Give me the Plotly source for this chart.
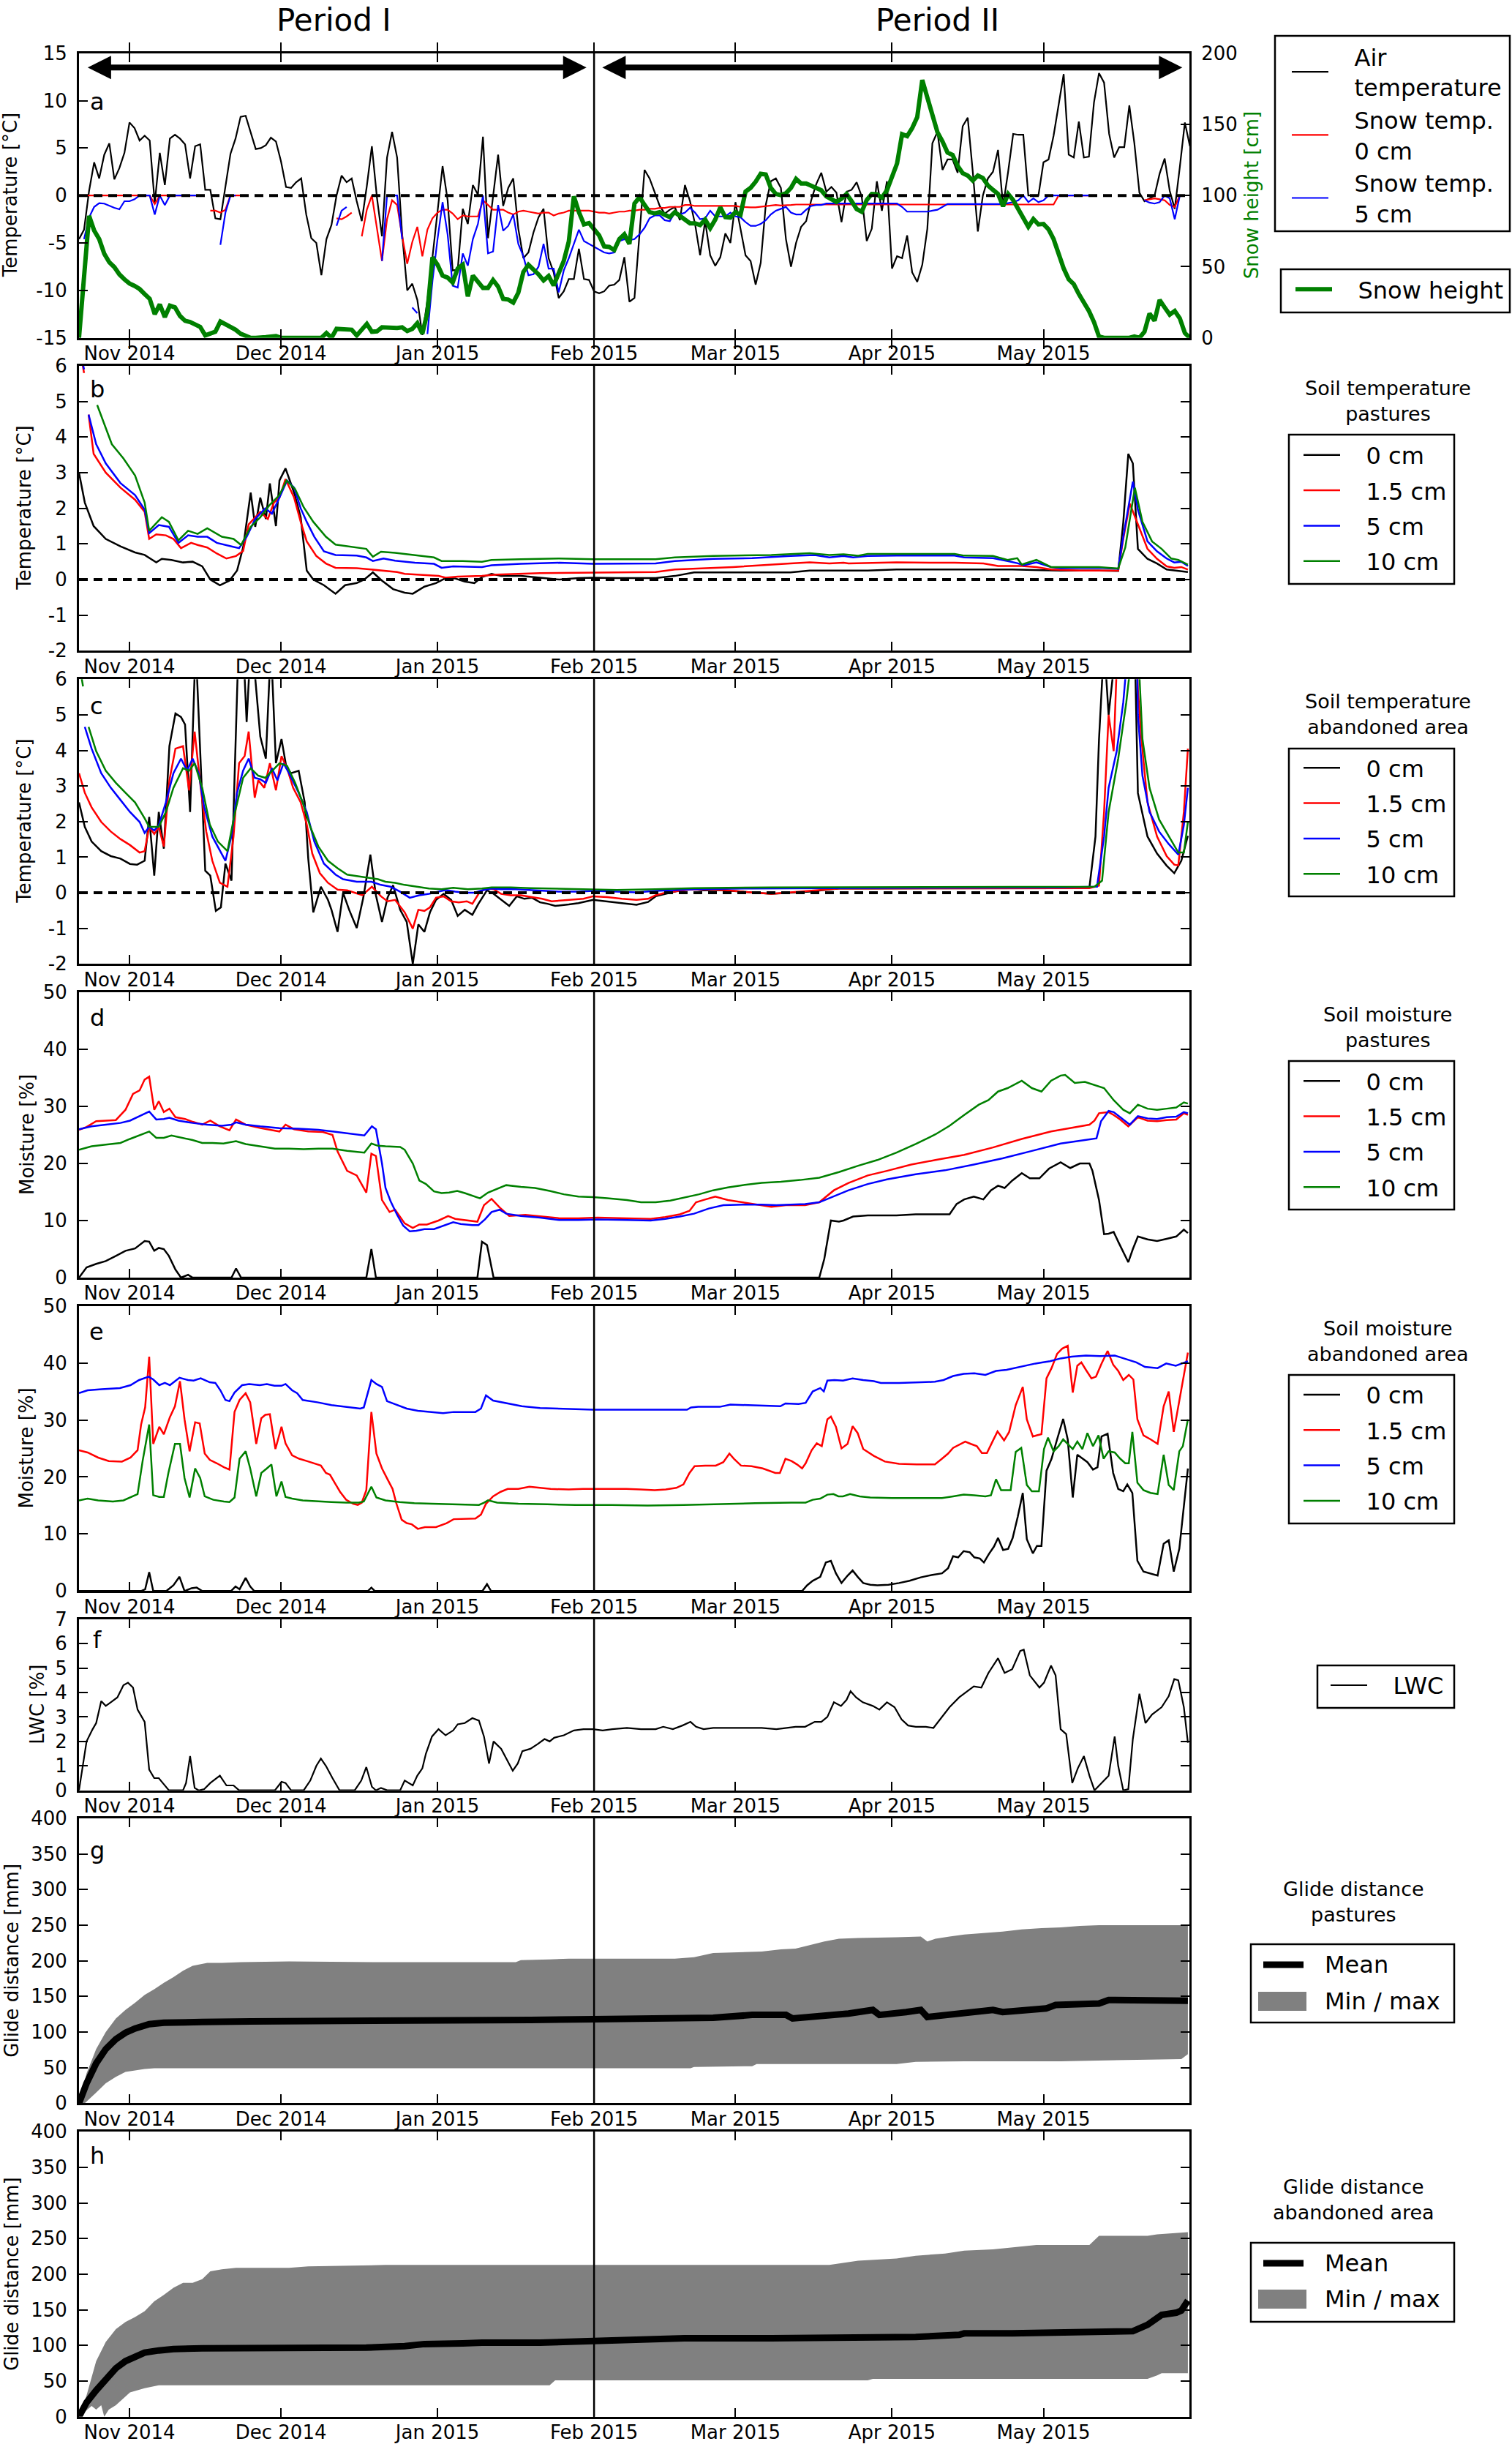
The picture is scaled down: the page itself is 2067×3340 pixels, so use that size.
import plotly.graph_objects as go
import pandas as pd

# the page body margin is removed (post_script) so the 2067 x 3340 figure
# coincides with the reference canvas.
W, H = 2067, 3340
OFF = 0
START = pd.Timestamp("2014-10-22")
X_END = START + pd.Timedelta(days=219.9)
FEB1 = "2015-02-01"
FONT = "DejaVu Sans"

MONTH_TICKS = ["2014-11-01", "2014-12-01", "2015-01-01", "2015-02-01", "2015-03-01", "2015-04-01", "2015-05-01"]
MONTH_LABELS = ["Nov 2014", "Dec 2014", "Jan 2015", "Feb 2015", "Mar 2015", "Apr 2015", "May 2015"]

# ---------------- panel a: daily values from 2014-10-22 ----------------
AIR_TEMP = [
    -4.6, -3.6, 0.5, 3.5, 1.8, 4.3, 5.5, 1.7, 2.9, 4.5,
    7.7, 7.1, 5.8, 6.3, 5.8, -0.8, 4.5, 1.1, 6.0, 6.4,
    6.0, 5.4, 1.8, 5.2, 5.4, 0.6, 0.6, -2.4, -2.5, 0.8,
    4.4, 6.0, 8.3, 8.4, 6.7, 4.9, 5.0, 5.3, 6.1, 5.7,
    3.6, 0.9, 0.8, 1.4, 1.8, -2.0, -4.5, -5.0, -8.4, -4.6,
    -3.1, 0.0, 2.1, 1.4, 1.8, -0.6, -2.7, 1.0, 5.2, -0.2,
    -4.3, 4.0, 6.7, 4.0, -4.1, -10.0, -9.3, -11.0, -14.7, -11.0,
    -6.5, -1.5, 3.1, -0.5, -7.9, -7.8, -1.4, -3.0, 1.1, 0.1,
    6.2, -4.5, 0.0, 4.3, -1.1, 0.8, 1.8, -3.5, -6.6, -6.0,
    -3.9, -2.3, -1.4, -6.6, -8.1, -10.8, -10.1, -8.8, -8.8, -5.6,
    -8.8, -8.9, -10.1, -10.3, -10.1, -9.5, -9.4, -8.9, -6.5, -11.2,
    -10.8, -4.0, 2.7, 1.8, 0.3, -1.1, -1.9, -1.5, -1.2, -2.6,
    1.1, -0.6, -3.0, -6.3, -2.7, -6.3, -7.4, -6.5, -4.0, -5.0,
    -0.7, -3.6, -6.3, -6.9, -9.4, -7.1, -1.0, 1.5, 1.8, 0.8,
    -4.6, -7.5, -5.0, -3.3, -2.7, -0.5, 1.2, 2.4, 0.4, 0.9,
    0.3, -2.8, 0.4, 0.6, 1.4, -0.1, -4.8, -3.5, 1.5, -1.6,
    1.5, -7.7, -6.4, -6.6, -4.2, -8.1, -9.1, -7.3, -3.5, 5.5,
    6.7, 2.7, 3.8, 3.8, 2.4, 7.3, 8.2, 2.5, -3.8, 0.0,
    1.8, 2.5, 4.8, -1.1, 2.5, 6.5, 6.4, 6.4, 0.0, 0.0,
    0.0, 3.5, 3.8, 6.3, 9.5, 12.8, 4.3, 4.0, 7.8, 4.0,
    4.1, 9.8, 12.9, 11.9, 6.5, 4.0, 5.1, 5.1, 9.5, 5.5,
    0.3, -0.6, -0.3, 0.0, 2.3, 3.9, 0.5, -1.4, 3.0, 7.7,
    5.2,
]

N = None
SNOW_T0 = [
    0, 0, 0, 0, 0, 0, 0, 0, 0, 0,
    0, 0, 0, 0, 0, -0.9, 0, 0, 0, 0,
    0, 0, 0, 0, 0, N, -1.6, -1.6, -1.8, -1.5,
    0, 0, 0, 0, N, N, N, N, N, N,
    N, N, N, N, N, N, N, N, N, N,
    N, -2.4, -2.5, -2.2, -1.8, N, -4.3, -1.5, 0, -3.5,
    -6.9, -2.5, -0.5, -1.0, -4.3, -7.2, -4.9, -3.3, -6.4, -3.6,
    -2.4, -1.8, -1.5, -1.5, -1.9, -2.5, -2.1, -2.2, -2.2, -2.2,
    -0.5, -1.0, -1.5, -1.5, -1.5, -1.8, -2.0, -1.7, -1.6, -1.7,
    -1.8, -1.9, -1.8, -1.8, -2.1, -1.9, -1.8, -1.6, -1.6, -1.6,
    -1.6, -1.6, -1.7, -1.8, -1.8, -1.9, -1.8, -1.7, -1.7, -1.6,
    -1.6, -1.5, -1.5, -1.4, -1.4, -1.3, -1.3, -1.2, -1.2, -1.2,
    -1.0, -1.0, -1.1, -1.1, -1.05, -1.1, -1.1, -1.05, -1.1, -1.05,
    -1.1, -1.2, -1.25, -1.25, -1.25, -1.2, -1.1, -1.05, -1.0, -1.05,
    -1.05, -1.0, -0.95, -0.95, -0.95, -0.95, -0.95, -0.95, -0.95, -0.95,
    -0.95, -0.95, -0.95, -0.95, -0.95, -0.95, -0.95, -0.95, -0.95, -0.95,
    -0.95, -0.95, -0.95, -0.95, -0.95, -0.95, -0.95, -0.95, -0.95, -0.95,
    -0.95, -0.95, -0.95, -0.95, -0.95, -0.95, -0.95, -0.95, -0.95, -0.95,
    -0.95, -0.95, -0.95, -0.95, -0.95, -0.95, -0.95, -0.95, -0.95, -0.95,
    -0.95, -0.95, -0.95, -0.95, 0, 0, 0, 0, 0, 0,
    0, 0, N, N, N, N, N, N, N, N,
    N, -0.5, -0.4, -0.3, -0.4, -0.5, -1.0, -1.2, 0, 0,
    N,
]

SNOW_T5 = [
    N, -4.6, -2.3, -1.2, -0.8, -0.85, -1.1, -1.3, -1.45, -0.6,
    -0.6, -0.4, 0, 0, 0, -2.0, 0, -1.0, 0, 0,
    0, 0, 0, 0, 0, N, N, N, -5.2, -1.8,
    0, 0, N, N, N, N, N, N, N, N,
    N, N, N, N, N, N, N, N, N, N,
    N, -3.2, -1.6, -1.2, N, N, N, N, N, N,
    -6.9, 0, 0, 0, -4.6, N, -11.8, -12.4, N, -14.6,
    -9.0, -4.6, -0.7, -4.1, -9.5, -9.7, -6.1, -7.4, -4.6, -3.0,
    0, -6.1, -5.9, -1.0, -3.7, -3.2, -2.0, -5.1, -6.4, -8.4,
    -8.3, -7.5, -5.1, -7.7, -7.7, -10.2, -7.9, -6.6, -5.1, -3.6,
    -4.8, -5.1, -5.4, -5.7, -6.0, -6.1, -6.0, -4.8, -4.6, -4.7,
    -4.6, -4.1, -3.4, -2.4, -2.1, -2.1, -2.6, -2.7, -1.8, -2.0,
    -1.8, -1.3, -1.8, -2.5, -2.4, -1.6, -2.2, -2.2, -2.2, -1.8,
    -2.2, -2.3, -2.8, -3.2, -3.2, -3.0, -2.6, -2.0, -1.6, -1.4,
    -1.2, -1.8, -2.0, -2.0, -1.5, -1.1, -1.0, -1.0, -0.85, -0.85,
    -0.85, -0.85, -0.85, -0.85, -0.85, -0.85, -0.85, -0.85, -0.85, -0.85,
    -0.85, -0.85, -0.85, -1.2, -1.7, -1.7, -1.7, -1.7, -1.7, -1.6,
    -1.5, -1.2, -0.9, -0.9, -0.9, -0.9, -0.9, -0.9, -0.9, -0.9,
    -0.9, -0.9, -0.9, -0.9, -0.8, -0.7, -0.5, 0.0, -0.7, -0.3,
    -0.7, -0.5, 0, 0, 0, 0, 0, 0, 0, 0,
    0, 0, N, N, N, N, N, N, N, N,
    N, -0.5, -0.75, -0.85, -0.7, 0, -0.3, -2.5, 0, N,
    N,
]

SNOW_HEIGHT = [
    0, 45, 85.7, 75.4, 69.4, 59.1, 53.1, 49.7, 44.6, 41.1,
    38.2, 36.5, 34.3, 30.8, 27.4, 16.6, 23.5, 14.6, 22.6, 21.4,
    15.4, 12.0, 11.1, 9.4, 7.7, 1.7, 3.4, 4.3, 11.5, 9.8,
    8.1, 5.7, 2.9, 1.2, 0, 0, 0, 0.5, 0.9, 1.2,
    0, 0, 0, 0, 0, 0, 0, 0, 0, 3.4,
    0, 6.3, 6.3, 6.0, 5.7, 1.7, 6.0, 9.8, 4.3, 4.6,
    7.4, 7.2, 7.0, 6.9, 7.4, 4.8, 6.3, 10.3, 2.9, 18.0,
    56.6, 51.4, 43.7, 42.3, 38.9, 48.8, 51.4, 29.1, 43.7, 39.4,
    35.1, 35.1, 40.6, 36.0, 27.4, 26.9, 24.8, 31.7, 46.3, 51.4,
    48.5, 44.6, 40.3, 43.4, 36.8, 46.3, 54.0, 67.7, 99.4, 88.3,
    79.7, 80.6, 76.3, 72.0, 64.3, 63.9, 61.7, 69.4, 72.8, 66.0,
    94.3, 98.9, 93.4, 88.3, 87.4, 88.3, 86.5, 84.8, 88.3, 85.7,
    84.0, 80.5, 80.5, 79.3, 83.1, 77.1, 83.1, 91.7, 84.8, 84.5,
    88.3, 86.5, 102.8, 105.4, 109.7, 115.3, 114.8, 105.4, 101.1, 100.3,
    101.6, 105.4, 111.7, 108.5, 108.5, 107.1, 105.1, 103.7, 99.4, 97.2,
    95.5, 97.7, 101.1, 96.0, 90.5, 88.6, 96.8, 101.1, 100.9, 98.5,
    103.7, 113.1, 122.5, 143.1, 141.7, 147.4, 155.1, 181.1, 169.7, 156.8,
    144.5, 138.0, 130.2, 128.5, 120.8, 115.7, 114.0, 110.5, 114.0, 112.3,
    107.1, 104.0, 101.1, 92.5, 101.1, 96.8, 90.0, 84.0, 78.0, 83.5,
    79.7, 80.0, 76.3, 69.4, 59.1, 48.8, 41.1, 37.7, 30.8, 24.8,
    18.9, 11.1, 0.9, 0, 0, 0, 0, 0, 0, 0.9,
    0, 4.3, 17.1, 12.0, 26.6, 21.4, 16.3, 18.9, 13.7, 3.4,
    0,
]

# ---------------- panels b-h: (day since 2014-10-22, value) ----------------
SOILT_PAST_0 = [(0, 3.0), (1.15, 2.16), (2.9, 1.5), (5.3, 1.14), (8.2, 0.93), (11.1, 0.76), (13.0, 0.69), (15.3, 0.48), (16.4, 0.58), (18.3, 0.55), (20.6, 0.48), (22.5, 0.5), (24.4, 0.37), (26.0, 0.0), (27.9, -0.16), (29.8, -0.03), (31.3, 0.25), (32.5, 0.9), (34.0, 2.44), (34.9, 1.48), (35.9, 2.3), (37.0, 1.7), (37.8, 2.7), (39.0, 1.5), (39.7, 2.78), (40.9, 3.12), (42.6, 2.44), (43.9, 1.75), (45.1, 0.25), (46.4, 0.0), (48.5, -0.16), (50.8, -0.4), (52.7, -0.16), (55.0, -0.1), (56.5, 0.0), (58.2, 0.2), (60.0, -0.03), (62.2, -0.27), (64.5, -0.37), (66.1, -0.4), (68.4, -0.2), (70.7, -0.1), (72.6, 0.04), (74.5, 0.03), (76.4, -0.06), (78.3, -0.1), (79.8, 0.07), (81.7, 0.16), (83.6, 0.1), (87.5, 0.1), (91.3, 0.05), (95.1, 0.0), (98.9, 0.04), (101.8, 0.05), (106.5, 0.04), (114.2, 0.04), (118.0, 0.1), (121.8, 0.2), (129.5, 0.2), (140.9, 0.2), (144.7, 0.25), (156.2, 0.25), (161.9, 0.28), (184.8, 0.28), (190.6, 0.26), (194.4, 0.25), (202.0, 0.25), (205.8, 0.24), (206.8, 1.6), (207.8, 3.53), (208.7, 3.26), (209.7, 0.86), (211.6, 0.58), (213.5, 0.45), (215.4, 0.28), (217.3, 0.25), (219.6, 0.21)]
SOILT_PAST_15 = [(0.4, 6.3), (1.0, 5.8), (1.5, None), (1.9, 4.63), (2.9, 3.53), (5.3, 3.0), (8.2, 2.58), (11.1, 2.24), (13.0, 1.9), (13.9, 1.14), (15.3, 1.27), (17.2, 1.24), (18.7, 1.14), (20.2, 0.88), (22.2, 1.03), (23.5, 0.97), (25.4, 0.9), (27.3, 0.73), (29.2, 0.59), (31.1, 0.66), (32.5, 0.8), (33.6, 1.55), (35.9, 1.9), (37.4, 1.7), (38.6, 2.16), (39.7, 2.3), (40.9, 2.82), (42.6, 2.3), (43.9, 1.62), (45.1, 1.07), (47.0, 0.66), (48.9, 0.45), (50.8, 0.33), (55.0, 0.32), (58.0, 0.28), (60.7, 0.25), (63.0, 0.21), (64.5, 0.16), (67.4, 0.14), (71.2, 0.1), (72.6, 0.05), (75.0, 0.08), (79.8, 0.1), (82.7, 0.14), (91.3, 0.18), (101.8, 0.2), (114.2, 0.21), (118.0, 0.28), (129.5, 0.35), (140.9, 0.45), (144.7, 0.48), (148.6, 0.45), (151.4, 0.47), (152.4, 0.45), (161.9, 0.48), (173.4, 0.47), (179.1, 0.45), (182.0, 0.38), (186.7, 0.38), (189.6, 0.35), (192.5, 0.28), (198.2, 0.25), (203.9, 0.24), (205.8, 0.25), (206.8, 1.14), (208.1, 2.13), (209.7, 1.55), (211.6, 0.86), (213.5, 0.58), (215.4, 0.37), (216.9, 0.33), (218.3, 0.35), (219.6, 0.28)]
SOILT_PAST_5 = [(0.4, 6.3), (1.0, 5.9), (1.5, None), (1.9, 4.63), (3.4, 3.8), (5.3, 3.26), (8.2, 2.71), (11.1, 2.37), (13.0, 1.96), (13.9, 1.3), (15.8, 1.53), (17.8, 1.48), (19.7, 1.03), (21.6, 1.24), (23.5, 1.2), (25.4, 1.2), (27.3, 1.03), (30.2, 0.93), (31.7, 0.88), (33.2, 1.2), (34.9, 1.7), (36.9, 2.0), (38.2, 1.85), (39.7, 2.3), (41.2, 2.78), (42.6, 2.58), (43.9, 2.0), (45.1, 1.62), (46.6, 1.2), (48.5, 0.79), (50.8, 0.69), (55.0, 0.67), (56.9, 0.62), (58.2, 0.52), (60.3, 0.59), (62.6, 0.53), (66.5, 0.47), (70.3, 0.44), (71.8, 0.33), (74.1, 0.37), (79.8, 0.35), (81.7, 0.4), (87.5, 0.44), (95.1, 0.47), (101.8, 0.44), (114.2, 0.45), (118.0, 0.52), (125.6, 0.58), (133.3, 0.6), (140.9, 0.66), (145.7, 0.69), (148.6, 0.62), (151.4, 0.66), (153.3, 0.62), (156.2, 0.66), (161.9, 0.67), (173.4, 0.67), (175.3, 0.62), (181.0, 0.6), (183.9, 0.52), (185.8, 0.46), (187.1, 0.4), (189.6, 0.48), (192.5, 0.35), (194.4, 0.32), (202.0, 0.33), (205.8, 0.3), (206.8, 1.2), (208.7, 2.75), (209.7, 1.96), (211.6, 1.07), (213.5, 0.79), (215.4, 0.59), (216.9, 0.48), (218.3, 0.5), (219.6, 0.38)]
SOILT_PAST_10 = [(3.6, 4.9), (6.5, 3.8), (8.8, 3.4), (11.1, 2.92), (13.0, 2.16), (13.9, 1.37), (16.4, 1.75), (17.8, 1.62), (19.7, 1.1), (21.6, 1.37), (23.5, 1.28), (25.4, 1.44), (28.3, 1.2), (30.6, 1.14), (32.1, 0.97), (34.0, 1.48), (35.9, 1.75), (37.8, 2.1), (39.7, 2.37), (41.1, 2.78), (42.8, 2.54), (44.5, 2.03), (46.4, 1.62), (48.9, 1.2), (50.8, 0.98), (55.0, 0.9), (56.9, 0.86), (58.2, 0.64), (59.8, 0.78), (62.6, 0.75), (66.5, 0.69), (70.3, 0.62), (71.8, 0.52), (76.0, 0.52), (79.8, 0.5), (81.7, 0.55), (87.5, 0.57), (95.1, 0.59), (101.8, 0.57), (114.2, 0.57), (118.0, 0.62), (125.6, 0.66), (137.1, 0.69), (144.7, 0.74), (148.6, 0.69), (151.4, 0.71), (154.3, 0.67), (156.2, 0.72), (173.4, 0.72), (175.3, 0.67), (181.0, 0.66), (183.9, 0.55), (185.8, 0.6), (186.7, 0.42), (189.6, 0.55), (192.5, 0.35), (202.0, 0.35), (205.8, 0.31), (207.2, 0.9), (209.1, 2.58), (210.6, 1.62), (212.5, 1.07), (214.4, 0.86), (216.3, 0.59), (217.7, 0.55), (219.6, 0.42)]

SOILT_ABAN_0 = [(0, 2.54), (1.15, 1.85), (2.5, 1.44), (4.4, 1.17), (6.3, 1.03), (8.2, 0.96), (10.1, 0.81), (11.5, 0.79), (13.0, 0.9), (13.9, 2.13), (14.9, 0.48), (15.8, 2.27), (16.8, 1.24), (17.9, 4.12), (19.1, 5.04), (20.2, 4.94), (21.0, 4.73), (22.0, 2.27), (23.1, 7.0), (24.1, 3.64), (25.0, 0.62), (26.0, 0.48), (27.1, -0.51), (28.1, -0.41), (29.0, 0.82), (30.2, 0.34), (31.7, 7.5), (32.5, 7.0), (33.2, 4.8), (34.0, 7.0), (34.8, 6.2), (35.9, 4.39), (37.0, 3.77), (38.0, 7.0), (39.0, 3.64), (40.1, 4.32), (41.1, 3.5), (42.0, 3.36), (43.5, 3.43), (44.7, 2.54), (45.4, 0.96), (46.4, -0.55), (47.9, 0.17), (49.3, -0.2), (50.0, -0.48), (51.2, -1.1), (52.3, 0.0), (53.5, -0.48), (55.0, -0.99), (56.3, -0.14), (57.7, 1.07), (58.8, -0.07), (60.0, -0.82), (61.1, -0.14), (62.2, 0.21), (63.6, -0.48), (64.9, -0.82), (66.1, -2.0), (67.2, -0.89), (68.4, -1.1), (69.5, -0.55), (70.7, -0.2), (72.2, -0.03), (73.7, -0.2), (75.0, -0.65), (76.4, -0.48), (77.9, -0.62), (79.1, -0.31), (80.8, 0.07), (82.1, -0.03), (83.6, -0.2), (85.2, -0.37), (86.7, -0.1), (88.2, -0.17), (89.7, -0.14), (91.3, -0.27), (92.8, -0.31), (94.3, -0.37), (97.0, -0.33), (98.9, -0.29), (101.8, -0.2), (104.6, -0.24), (107.5, -0.29), (110.4, -0.34), (112.7, -0.26), (114.2, -0.1), (116.1, -0.03), (118.0, 0.03), (119.9, 0.1), (121.8, 0.1), (123.7, 0.07), (126.6, 0.08), (129.5, 0.05), (133.3, 0.0), (137.1, -0.03), (140.9, 0.0), (144.7, 0.03), (147.6, 0.08), (150.5, 0.12), (156.2, 0.12), (175.3, 0.13), (194.4, 0.13), (200.1, 0.15), (201.3, 1.58), (202.0, 4.32), (203.0, 7.0), (203.9, 5.0), (205.8, 7.5), (209.0, 7.5), (209.7, 2.8), (211.6, 1.58), (213.5, 1.1), (215.4, 0.76), (216.9, 0.55), (218.3, 0.9), (219.6, 1.6)]
SOILT_ABAN_15 = [(0, 3.36), (1.15, 2.81), (2.5, 2.4), (4.4, 1.99), (6.3, 1.72), (8.2, 1.51), (10.1, 1.34), (12.0, 1.13), (13.0, 1.17), (13.9, 1.85), (14.9, 1.65), (15.8, 1.85), (16.8, 1.3), (17.9, 3.16), (19.1, 4.05), (20.6, 4.12), (21.8, 2.88), (22.9, 4.53), (24.1, 2.95), (25.2, 1.72), (26.4, 0.9), (27.9, 0.28), (29.4, 0.17), (30.6, 1.58), (31.7, 3.64), (32.8, 3.84), (33.6, 4.53), (34.8, 2.67), (35.5, 3.16), (36.7, 2.95), (37.8, 3.64), (39.0, 2.88), (40.1, 3.84), (41.2, 3.5), (42.4, 2.95), (43.9, 2.54), (45.1, 1.92), (46.2, 1.1), (47.7, 0.55), (49.3, 0.28), (51.2, 0.09), (53.1, 0.07), (54.6, 0.0), (56.1, -0.07), (58.0, 0.17), (59.8, -0.1), (61.1, -0.24), (62.6, -0.2), (64.5, -0.55), (66.1, -1.01), (67.2, -0.48), (68.4, -0.51), (69.5, -0.41), (70.7, -0.14), (72.2, -0.1), (73.7, -0.24), (75.2, -0.27), (76.8, -0.24), (77.9, -0.31), (79.4, 0.03), (80.8, 0.12), (82.1, 0.1), (83.6, -0.03), (85.5, -0.07), (87.5, -0.07), (89.7, -0.12), (91.7, -0.17), (93.6, -0.24), (97.0, -0.2), (99.9, -0.17), (101.8, -0.1), (104.6, -0.12), (107.5, -0.17), (110.4, -0.2), (112.7, -0.17), (114.2, -0.07), (116.1, 0.0), (118.0, 0.03), (120.9, 0.09), (123.7, 0.1), (127.6, 0.08), (131.4, 0.03), (135.2, 0.0), (137.1, -0.03), (140.0, 0.0), (142.8, 0.03), (146.6, 0.08), (150.5, 0.12), (200.1, 0.13), (202.0, 0.2), (203.0, 2.27), (203.9, 5.0), (204.9, 3.98), (205.8, 7.5), (209.3, 7.5), (209.7, 5.7), (210.4, 4.32), (211.6, 2.54), (213.5, 1.58), (215.4, 1.03), (216.9, 0.79), (217.7, 0.77), (218.8, 2.27), (219.6, 4.05)]
SOILT_ABAN_5 = [(1.15, 4.66), (2.5, 4.05), (4.4, 3.36), (6.3, 2.95), (8.2, 2.61), (10.1, 2.27), (12.0, 1.99), (13.0, 1.68), (13.9, 1.85), (14.9, 1.75), (15.8, 1.89), (17.2, 2.54), (18.7, 3.36), (20.2, 3.77), (21.4, 3.43), (22.5, 3.77), (23.7, 3.36), (24.8, 2.4), (26.4, 1.58), (27.9, 1.17), (29.0, 0.9), (30.2, 1.6), (31.3, 2.81), (32.5, 3.43), (33.6, 3.77), (34.8, 3.23), (35.9, 3.19), (37.0, 3.09), (38.2, 3.5), (39.3, 3.16), (40.5, 3.64), (41.6, 3.36), (43.5, 2.81), (45.1, 2.27), (46.6, 1.44), (48.5, 0.82), (50.8, 0.51), (52.3, 0.38), (55.0, 0.31), (57.9, 0.31), (59.8, 0.22), (61.7, 0.17), (63.6, 0.03), (65.5, -0.14), (67.4, -0.07), (69.3, -0.03), (71.2, 0.03), (72.6, 0.08), (74.5, 0.03), (76.4, 0.0), (78.3, 0.0), (79.8, 0.07), (81.7, 0.12), (83.6, 0.1), (86.5, 0.1), (89.0, 0.08), (91.3, 0.05), (95.1, 0.03), (98.9, 0.03), (101.8, 0.05), (106.5, 0.03), (110.4, 0.01), (114.2, 0.05), (118.0, 0.07), (121.8, 0.1), (133.3, 0.12), (142.8, 0.12), (148.6, 0.13), (194.4, 0.15), (201.6, 0.17), (203.0, 1.58), (203.9, 2.95), (205.5, 3.98), (206.8, 5.35), (207.8, 7.0), (209.5, 7.0), (209.7, 5.0), (210.6, 3.29), (212.0, 2.27), (213.9, 1.72), (215.8, 1.37), (217.7, 1.07), (218.8, 1.9), (219.6, 2.95)]
SOILT_ABAN_10 = [(0.2, 6.3), (0.8, 5.8), (1.4, None), (1.9, 4.66), (3.4, 3.98), (5.3, 3.43), (7.3, 3.09), (9.2, 2.81), (11.1, 2.54), (13.0, 2.09), (13.9, 1.85), (15.8, 1.85), (17.2, 2.27), (18.7, 2.95), (20.6, 3.5), (21.8, 3.43), (22.9, 3.64), (24.4, 2.95), (25.9, 1.92), (27.5, 1.44), (29.4, 1.17), (30.9, 2.27), (32.5, 3.23), (34.0, 3.5), (35.5, 3.29), (36.9, 3.23), (38.2, 3.43), (39.7, 3.64), (41.2, 3.57), (42.8, 3.09), (44.3, 2.54), (45.8, 1.85), (47.4, 1.3), (49.3, 0.9), (51.2, 0.69), (53.1, 0.51), (55.0, 0.47), (56.9, 0.43), (59.2, 0.38), (60.7, 0.31), (62.6, 0.28), (64.5, 0.22), (66.8, 0.17), (69.3, 0.12), (71.8, 0.1), (74.1, 0.14), (77.0, 0.1), (79.8, 0.12), (81.7, 0.15), (85.5, 0.15), (89.4, 0.13), (93.2, 0.12), (98.9, 0.1), (106.5, 0.08), (114.2, 0.1), (118.0, 0.12), (121.8, 0.13), (137.1, 0.15), (175.3, 0.16), (190.6, 0.17), (201.1, 0.17), (202.6, 0.34), (203.9, 2.27), (205.8, 3.77), (207.4, 5.35), (208.7, 7.0), (209.7, 7.0), (210.6, 4.32), (212.0, 2.95), (213.9, 2.06), (215.8, 1.58), (217.7, 1.13), (218.8, 1.13), (219.6, 1.99)]

MOIST_PAST_0 = [(0, 0), (1.5, 1.8), (3.4, 2.4), (5.3, 2.9), (7.3, 3.8), (9.2, 4.7), (11.1, 5.1), (13.0, 6.4), (13.9, 6.3), (14.9, 4.7), (15.8, 5.2), (16.8, 5.0), (17.8, 3.8), (19.1, 1.4), (20.2, 0), (21.6, 0.5), (22.5, 0), (30.2, 0), (31.1, 1.6), (32.1, 0), (56.9, 0), (57.9, 5.0), (58.8, 0), (78.9, 0), (79.8, 6.3), (80.8, 5.7), (82.1, 0), (146.6, 0), (147.6, 3.3), (148.9, 10.0), (150.5, 9.8), (151.4, 10.0), (153.3, 10.7), (156.2, 10.9), (161.9, 10.9), (165.7, 11.1), (172.4, 11.1), (173.8, 12.9), (175.3, 13.7), (177.2, 14.2), (179.1, 13.7), (180.6, 15.3), (182.0, 16.1), (183.3, 15.7), (184.8, 17.0), (186.7, 18.3), (188.3, 17.4), (190.2, 17.4), (192.1, 19.1), (194.4, 20.2), (196.3, 19.2), (198.2, 20.0), (200.1, 20.0), (200.7, 18.7), (202.0, 13.6), (203.0, 7.6), (203.9, 7.7), (204.9, 8.0), (205.8, 6.3), (206.8, 4.6), (207.8, 2.7), (208.7, 5.0), (209.7, 7.2), (211.6, 6.7), (213.5, 6.4), (215.4, 6.8), (217.3, 7.2), (218.8, 8.4), (219.6, 7.8)]
MOIST_PAST_15 = [(0, 25.9), (1.5, 26.4), (3.4, 27.4), (5.3, 27.5), (7.3, 27.6), (9.2, 29.4), (10.7, 32.2), (12.0, 32.8), (13.0, 34.7), (13.9, 35.2), (14.9, 29.4), (15.8, 30.9), (16.8, 29.0), (17.9, 29.6), (19.1, 28.1), (21.0, 27.8), (22.5, 27.3), (24.4, 26.8), (26.0, 27.5), (27.9, 26.5), (29.8, 25.8), (31.1, 27.7), (33.0, 26.8), (35.9, 26.2), (37.8, 25.9), (39.7, 25.6), (40.9, 26.8), (42.6, 26.0), (45.4, 25.6), (48.3, 25.5), (50.2, 25.0), (51.2, 22.1), (53.1, 18.7), (55.0, 17.9), (56.9, 14.9), (57.9, 21.7), (58.8, 21.3), (60.0, 13.6), (61.5, 11.5), (62.6, 11.9), (64.5, 9.5), (66.1, 8.7), (67.4, 9.3), (68.9, 9.3), (71.2, 10.0), (73.1, 10.8), (74.5, 10.3), (77.0, 10.0), (78.9, 9.8), (80.2, 12.7), (81.7, 13.8), (83.3, 12.3), (85.2, 10.8), (88.4, 11.0), (91.3, 10.7), (95.1, 10.4), (98.9, 10.4), (102.7, 10.5), (108.5, 10.4), (113.2, 10.3), (116.1, 10.6), (119.0, 11.1), (120.9, 11.7), (122.2, 13.2), (123.7, 13.6), (126.0, 14.2), (128.5, 13.6), (131.4, 13.2), (134.2, 12.8), (137.1, 12.4), (140.0, 12.7), (143.8, 12.7), (146.6, 13.2), (149.5, 15.3), (152.4, 16.6), (156.2, 17.9), (160.0, 18.7), (164.8, 19.8), (169.6, 20.6), (175.3, 21.5), (181.0, 22.8), (186.7, 24.3), (192.5, 25.6), (196.3, 26.2), (200.1, 26.8), (201.1, 27.5), (202.0, 28.8), (203.9, 29.0), (204.9, 28.5), (206.2, 27.7), (207.8, 26.5), (209.7, 28.1), (211.6, 27.5), (213.5, 27.4), (215.4, 27.6), (217.3, 27.7), (218.8, 28.8), (219.6, 28.5)]
MOIST_PAST_5 = [(0, 26.0), (2.5, 26.5), (5.3, 26.8), (8.2, 27.1), (10.1, 27.5), (12.0, 28.3), (13.9, 29.1), (15.3, 27.7), (16.8, 27.8), (17.9, 28.0), (19.7, 27.5), (22.5, 27.1), (25.4, 26.8), (28.3, 26.6), (30.2, 26.8), (31.1, 27.2), (33.0, 26.8), (35.9, 26.5), (39.7, 26.2), (43.5, 26.1), (47.4, 25.9), (50.2, 25.6), (53.1, 25.3), (56.5, 24.9), (58.0, 26.5), (58.8, 26.0), (60.0, 20.0), (60.7, 15.7), (61.7, 13.4), (63.0, 11.0), (64.2, 9.1), (65.5, 8.1), (66.8, 8.2), (68.4, 8.5), (70.3, 8.5), (72.2, 9.1), (74.1, 9.7), (75.6, 9.4), (77.9, 9.2), (79.1, 9.2), (80.4, 10.2), (81.7, 11.5), (83.3, 11.9), (84.6, 11.2), (87.5, 10.8), (91.3, 10.5), (95.1, 10.1), (98.9, 10.1), (102.7, 10.2), (108.5, 10.1), (113.2, 10.0), (116.1, 10.3), (119.0, 10.7), (121.8, 11.2), (124.7, 12.1), (127.6, 12.7), (131.4, 12.8), (135.2, 12.8), (138.1, 12.7), (140.9, 12.8), (143.8, 12.9), (146.6, 13.2), (149.5, 14.2), (152.4, 15.3), (156.2, 16.4), (160.0, 17.2), (165.7, 18.1), (171.5, 18.8), (177.2, 19.8), (182.9, 20.9), (188.7, 22.2), (194.4, 23.5), (199.2, 24.1), (201.5, 24.4), (202.4, 27.4), (203.9, 29.2), (204.9, 29.0), (206.8, 27.7), (208.1, 26.8), (209.7, 28.3), (211.6, 27.9), (213.5, 27.8), (215.4, 28.1), (217.3, 28.2), (218.8, 29.0), (219.6, 28.8)]
MOIST_PAST_10 = [(0, 22.4), (2.5, 23.0), (5.3, 23.3), (8.2, 23.6), (10.1, 24.3), (12.0, 24.9), (13.9, 25.6), (15.3, 24.5), (16.8, 24.5), (18.3, 24.9), (20.6, 24.5), (22.5, 24.1), (24.4, 23.6), (26.4, 23.6), (28.6, 23.5), (31.1, 23.9), (33.0, 23.4), (35.9, 23.0), (38.8, 22.6), (41.6, 22.6), (44.5, 22.5), (47.4, 22.6), (50.2, 22.6), (53.1, 22.2), (56.5, 21.9), (57.9, 23.5), (59.2, 23.1), (60.7, 23.0), (63.6, 22.9), (64.5, 22.4), (66.1, 20.0), (67.4, 17.0), (68.7, 16.4), (70.3, 15.1), (71.8, 14.8), (73.3, 14.9), (74.9, 15.2), (76.4, 14.8), (77.9, 14.4), (79.4, 13.9), (81.0, 14.9), (82.7, 15.5), (84.6, 16.2), (87.5, 15.9), (90.3, 15.7), (93.2, 15.2), (96.0, 14.6), (98.9, 14.2), (101.8, 14.1), (104.6, 13.9), (108.5, 13.6), (111.3, 13.2), (114.2, 13.2), (117.1, 13.5), (119.9, 14.0), (122.8, 14.6), (125.6, 15.3), (128.5, 15.8), (131.4, 16.2), (135.2, 16.6), (139.0, 16.8), (142.8, 17.1), (146.6, 17.5), (150.5, 18.5), (154.3, 19.6), (158.1, 20.6), (161.9, 21.9), (165.7, 23.4), (169.6, 25.1), (172.4, 26.6), (175.3, 28.5), (178.2, 30.3), (180.1, 31.1), (182.0, 32.6), (183.9, 33.2), (186.7, 34.5), (188.7, 33.2), (190.6, 32.6), (192.5, 34.5), (194.4, 35.4), (195.3, 35.5), (197.2, 34.1), (199.2, 34.3), (201.1, 33.7), (203.0, 33.2), (204.9, 31.1), (206.8, 29.4), (208.1, 28.8), (209.7, 30.3), (211.6, 29.6), (213.5, 29.4), (215.4, 29.6), (217.3, 29.8), (218.8, 30.7), (219.6, 30.5)]

MOIST_ABAN_0 = [(0, 0), (12.3, 0), (13.1, 0.3), (13.9, 3.3), (14.7, 0), (17.3, 0), (18.7, 1.0), (19.9, 2.5), (20.9, 0), (22.3, 0.5), (23.3, 0.6), (24.4, 0), (30.1, 0), (31.0, 0.8), (31.8, 0.3), (33.0, 2.3), (33.9, 0.8), (34.7, 0), (57.2, 0), (57.9, 0.6), (58.6, 0), (79.9, 0), (80.8, 1.2), (81.6, 0), (143.2, 0), (144.2, 1.0), (145.3, 1.8), (146.8, 2.5), (147.9, 5.0), (148.9, 5.3), (149.9, 3.1), (151.0, 1.4), (152.2, 2.7), (153.2, 3.6), (154.2, 2.5), (155.3, 1.4), (156.7, 1.1), (158.1, 1.0), (160.3, 1.1), (162.4, 1.4), (164.5, 1.8), (166.7, 2.4), (168.8, 2.8), (170.9, 3.1), (172.1, 4.0), (173.1, 6.1), (174.1, 5.9), (175.2, 7.0), (176.4, 6.8), (177.3, 5.9), (178.4, 5.7), (179.2, 5.0), (180.2, 6.5), (181.2, 7.8), (182.0, 9.3), (183.0, 7.2), (184.0, 7.4), (184.9, 9.3), (185.9, 13.0), (186.9, 17.2), (187.7, 9.1), (188.9, 6.6), (189.7, 7.9), (190.6, 7.9), (191.6, 21.1), (192.6, 23.2), (193.7, 26.6), (194.9, 30.2), (195.8, 26.6), (196.8, 16.4), (197.7, 23.9), (198.7, 23.2), (199.7, 22.6), (200.8, 21.3), (201.7, 21.7), (202.5, 27.1), (203.7, 27.6), (204.8, 20.7), (205.8, 17.9), (206.8, 17.5), (207.6, 18.7), (208.6, 17.2), (209.6, 5.3), (210.8, 3.4), (212.2, 3.0), (213.6, 2.7), (214.8, 8.3), (215.8, 8.9), (216.8, 3.4), (217.9, 7.4), (219.6, 21.5)]
MOIST_ABAN_15 = [(0, 24.7), (1.7, 24.3), (3.8, 23.4), (5.9, 22.8), (8.5, 22.7), (10.2, 23.4), (11.6, 24.7), (12.3, 29.2), (13.1, 32.2), (13.9, 41.1), (14.7, 25.8), (15.9, 28.8), (16.8, 27.5), (18.0, 30.5), (19.0, 32.4), (20.0, 36.8), (20.9, 30.1), (21.9, 24.5), (23.0, 29.6), (23.9, 29.4), (24.9, 24.1), (25.9, 23.0), (27.3, 22.4), (28.7, 21.7), (29.8, 21.3), (30.8, 31.4), (31.8, 33.5), (33.0, 34.7), (33.9, 33.1), (35.1, 25.8), (36.1, 30.3), (36.9, 30.9), (37.8, 31.0), (38.9, 24.9), (40.1, 28.8), (40.9, 25.9), (42.2, 23.8), (43.6, 23.2), (45.1, 22.8), (46.5, 22.4), (47.9, 22.0), (48.9, 20.7), (49.7, 20.4), (50.7, 18.9), (51.7, 17.4), (52.9, 16.0), (54.3, 15.3), (55.2, 15.1), (56.0, 15.5), (56.9, 17.7), (57.9, 31.4), (58.9, 24.1), (60.0, 21.5), (61.1, 19.6), (62.1, 17.9), (62.8, 15.5), (63.9, 12.5), (64.9, 11.9), (65.9, 11.7), (67.1, 10.9), (68.5, 11.2), (70.7, 11.2), (72.8, 11.9), (74.2, 12.6), (76.4, 12.7), (78.5, 12.7), (79.6, 13.4), (80.6, 15.3), (82.0, 16.6), (83.5, 17.4), (84.9, 17.9), (87.0, 17.9), (89.2, 18.3), (91.3, 18.1), (93.4, 17.9), (97.0, 17.8), (99.8, 17.9), (102.7, 17.9), (108.4, 17.9), (111.2, 17.8), (114.0, 17.7), (116.2, 17.8), (118.3, 18.1), (119.7, 18.7), (120.9, 20.7), (121.9, 21.9), (124.0, 22.0), (126.1, 22.0), (127.6, 22.6), (128.8, 24.1), (129.7, 23.2), (131.1, 22.0), (133.2, 21.9), (135.4, 21.5), (136.8, 21.1), (137.9, 20.7), (138.8, 20.7), (139.9, 23.2), (141.1, 22.8), (142.2, 22.2), (143.2, 21.5), (143.9, 22.4), (145.1, 24.7), (146.1, 25.9), (147.1, 25.4), (148.2, 30.1), (148.9, 30.6), (149.9, 28.8), (151.0, 25.0), (152.2, 25.8), (153.2, 28.9), (154.2, 27.7), (155.3, 24.9), (157.4, 23.7), (159.6, 22.7), (162.4, 22.3), (165.9, 22.2), (169.5, 22.2), (170.9, 23.2), (172.1, 24.1), (173.1, 25.1), (174.5, 25.8), (175.5, 26.2), (176.6, 25.8), (177.8, 25.4), (178.8, 24.2), (179.8, 24.2), (180.9, 26.2), (181.9, 28.0), (183.2, 26.4), (184.2, 27.9), (185.5, 32.6), (186.9, 35.8), (187.7, 30.1), (188.9, 27.1), (189.7, 27.3), (190.6, 27.5), (191.6, 37.3), (192.6, 39.1), (193.7, 41.6), (194.7, 42.5), (195.8, 43.0), (196.8, 34.8), (197.7, 39.5), (198.5, 40.1), (199.4, 38.8), (200.5, 37.3), (201.4, 37.6), (202.5, 39.9), (203.7, 42.1), (204.8, 39.7), (205.8, 38.6), (206.8, 37.0), (207.9, 37.9), (208.8, 37.1), (209.6, 30.1), (210.8, 27.3), (212.2, 26.6), (213.6, 25.8), (214.8, 32.4), (215.8, 35.0), (216.8, 27.9), (217.9, 33.5), (219.6, 41.8)]
MOIST_ABAN_5 = [(0, 34.7), (1.7, 35.2), (4.5, 35.4), (8.1, 35.6), (10.2, 36.1), (11.9, 37.0), (13.8, 37.6), (14.7, 37.1), (15.9, 36.1), (17.0, 36.5), (18.0, 36.1), (19.9, 37.4), (21.6, 37.0), (22.7, 36.9), (24.1, 37.3), (25.9, 36.6), (27.0, 36.5), (28.0, 35.2), (29.0, 33.5), (29.8, 33.3), (30.8, 34.8), (32.3, 36.1), (33.7, 36.3), (35.8, 36.1), (37.2, 36.3), (38.7, 36.0), (40.1, 36.0), (40.9, 36.3), (42.2, 35.2), (43.2, 34.7), (44.3, 33.5), (47.2, 33.1), (50.0, 32.6), (52.9, 32.3), (55.7, 32.0), (56.4, 32.2), (57.9, 37.0), (58.9, 36.3), (60.0, 35.8), (61.0, 33.3), (62.8, 32.7), (64.9, 32.0), (67.1, 31.6), (69.9, 31.4), (72.1, 31.2), (74.2, 31.4), (78.5, 31.4), (79.6, 32.0), (80.6, 34.3), (82.0, 33.4), (84.2, 33.0), (87.7, 32.4), (91.3, 32.1), (97.0, 31.9), (101.9, 31.8), (112.6, 31.8), (120.4, 31.8), (121.2, 32.2), (122.6, 32.3), (126.9, 32.3), (129.0, 32.7), (132.5, 32.6), (138.9, 32.4), (139.9, 32.9), (142.5, 32.8), (143.9, 33.0), (145.3, 35.0), (146.8, 35.6), (147.5, 35.0), (148.2, 36.9), (149.6, 37.0), (151.3, 36.9), (153.2, 37.3), (155.3, 37.0), (157.4, 36.8), (158.8, 36.5), (162.4, 36.5), (166.7, 36.6), (169.5, 36.7), (171.2, 37.0), (173.1, 37.7), (175.2, 38.1), (177.3, 38.2), (179.5, 37.9), (181.6, 38.6), (183.7, 38.8), (186.6, 39.4), (189.4, 39.9), (190.9, 40.1), (192.3, 40.3), (194.4, 40.8), (196.6, 41.1), (199.4, 41.3), (202.2, 41.2), (205.1, 41.3), (207.2, 40.7), (209.4, 40.1), (211.1, 39.3), (213.6, 39.1), (215.3, 39.9), (217.2, 39.5), (219.0, 40.1), (219.6, 40.3)]
MOIST_ABAN_10 = [(0, 15.9), (1.7, 16.2), (3.8, 15.9), (6.7, 15.7), (8.8, 15.9), (10.2, 16.4), (11.6, 17.0), (12.6, 22.8), (13.9, 29.2), (14.7, 16.8), (15.9, 16.5), (16.8, 16.5), (17.7, 20.7), (19.0, 25.8), (20.0, 25.8), (20.9, 19.8), (21.9, 16.4), (23.0, 21.5), (24.0, 19.8), (24.9, 16.6), (26.6, 16.0), (28.7, 15.7), (29.8, 15.6), (30.8, 16.4), (31.8, 23.2), (33.0, 24.5), (33.9, 21.5), (35.1, 16.6), (36.1, 20.7), (37.2, 21.5), (38.1, 22.2), (39.1, 16.6), (40.1, 19.2), (40.9, 16.5), (42.2, 16.2), (44.3, 15.9), (47.2, 15.7), (50.0, 15.6), (52.9, 15.5), (55.4, 15.5), (56.4, 15.7), (57.9, 18.3), (58.9, 16.4), (60.7, 15.9), (63.5, 15.6), (66.4, 15.4), (69.9, 15.3), (74.2, 15.2), (79.2, 15.1), (80.2, 15.5), (81.0, 15.9), (82.8, 15.5), (87.0, 15.3), (92.7, 15.2), (98.4, 15.1), (105.5, 15.1), (112.6, 15.0), (119.7, 15.1), (126.9, 15.3), (133.9, 15.4), (141.1, 15.5), (143.9, 15.5), (145.3, 16.0), (146.8, 16.2), (148.2, 16.9), (149.4, 17.0), (150.4, 16.6), (151.3, 16.6), (152.7, 17.0), (154.6, 16.6), (156.7, 16.4), (161.0, 16.3), (166.7, 16.3), (170.9, 16.3), (173.1, 16.6), (175.2, 16.9), (177.3, 16.8), (179.5, 16.6), (180.6, 16.8), (181.6, 19.6), (182.6, 17.7), (183.5, 17.7), (184.5, 17.7), (185.5, 24.4), (186.6, 25.1), (187.7, 18.6), (188.7, 17.5), (190.1, 17.5), (191.1, 24.9), (191.9, 26.9), (193.0, 24.5), (194.0, 25.4), (194.9, 26.6), (195.8, 25.8), (196.8, 24.9), (197.7, 26.2), (198.7, 24.9), (199.7, 27.7), (200.8, 25.4), (201.9, 27.3), (202.9, 23.2), (203.9, 24.5), (205.1, 24.3), (206.2, 23.2), (207.2, 22.4), (207.9, 22.4), (208.6, 27.9), (209.6, 19.0), (210.8, 17.7), (212.2, 17.2), (213.6, 17.0), (214.8, 23.9), (215.8, 18.6), (216.8, 17.7), (217.9, 24.5), (218.6, 25.4), (219.6, 30.1)]

LWC = [(0, 0), (0.8, 1.0), (1.5, 2.0), (2.7, 2.5), (3.4, 2.75), (4.4, 3.65), (5.3, 3.45), (6.3, 3.6), (7.6, 3.8), (8.8, 4.3), (9.7, 4.4), (10.7, 4.2), (11.6, 3.3), (13.0, 2.8), (13.9, 0.85), (14.9, 0.5), (15.8, 0.5), (16.8, 0.25), (17.8, 0), (20.6, 0), (21.2, 0.3), (22.0, 1.4), (22.9, 0.1), (23.7, 0), (24.8, 0.05), (26.0, 0.3), (27.9, 0.6), (29.2, 0.2), (30.6, 0.2), (31.7, 0), (38.8, 0), (40.1, 0.35), (40.9, 0.3), (42.0, 0), (44.5, 0), (45.8, 0.4), (47.0, 1.0), (47.9, 1.3), (48.9, 1.0), (50.2, 0.5), (51.6, 0), (54.6, 0), (55.9, 0.4), (56.9, 0.95), (58.0, 0.15), (58.8, 0), (59.8, 0.1), (61.1, 0), (63.6, 0), (64.5, 0.4), (66.1, 0.2), (67.0, 0.6), (68.0, 0.9), (68.7, 1.5), (69.9, 2.2), (71.2, 2.5), (72.6, 2.25), (74.1, 2.45), (75.0, 2.7), (76.4, 2.75), (77.9, 2.95), (79.2, 2.85), (80.2, 2.2), (81.2, 1.1), (82.1, 2.0), (83.6, 1.7), (84.6, 1.3), (85.9, 0.8), (86.9, 1.1), (87.8, 1.6), (89.4, 1.7), (90.9, 1.9), (92.2, 2.1), (93.2, 2.0), (94.1, 2.15), (96.0, 2.25), (98.0, 2.45), (99.9, 2.5), (101.8, 2.5), (103.7, 2.45), (105.6, 2.5), (108.5, 2.55), (111.3, 2.5), (114.2, 2.5), (115.7, 2.6), (117.6, 2.5), (119.5, 2.65), (121.1, 2.8), (122.2, 2.6), (123.7, 2.5), (125.6, 2.55), (128.5, 2.55), (135.2, 2.55), (138.1, 2.5), (140.0, 2.55), (141.9, 2.6), (143.8, 2.6), (145.7, 2.8), (147.0, 2.8), (148.2, 3.0), (149.5, 3.6), (150.9, 3.45), (152.0, 3.7), (152.8, 4.05), (153.9, 3.8), (155.2, 3.6), (157.2, 3.45), (158.5, 3.3), (160.0, 3.6), (161.5, 3.4), (162.9, 2.9), (164.2, 2.65), (165.7, 2.6), (167.7, 2.6), (169.2, 2.55), (170.5, 2.9), (172.4, 3.4), (174.3, 3.8), (176.2, 4.1), (177.2, 4.25), (178.7, 4.2), (180.1, 4.8), (182.0, 5.4), (183.3, 4.8), (184.8, 4.95), (186.4, 5.7), (187.1, 5.75), (188.3, 4.7), (190.2, 4.2), (191.1, 4.4), (192.5, 5.1), (193.4, 4.7), (194.4, 2.5), (195.5, 2.3), (196.7, 0.3), (197.8, 0.9), (199.0, 1.4), (200.1, 0.6), (201.1, 0), (203.0, 0.4), (203.9, 0.6), (205.1, 2.2), (205.8, 1.0), (206.8, 0), (207.8, 0.05), (208.7, 2.1), (210.0, 3.95), (211.2, 2.75), (212.5, 3.1), (214.4, 3.4), (215.8, 3.85), (216.9, 4.55), (217.7, 4.5), (218.8, 3.4), (219.6, 1.95)]

GLIDE_PAST_MAX = [(0, 0), (1.5, 42), (3.4, 76), (5.3, 100), (7.3, 119), (9.2, 131), (11.1, 141), (13.0, 152), (14.9, 160), (16.8, 169), (18.7, 177), (20.6, 186), (22.5, 193), (25.4, 197), (28.3, 197), (32.1, 198), (41.6, 199), (60.7, 198), (86.5, 198), (87.5, 201), (93.2, 202), (97.0, 203), (118.0, 203), (121.8, 205), (125.6, 211), (131.4, 212), (135.2, 213), (139.0, 216), (141.9, 217), (144.7, 222), (147.6, 227), (150.5, 231), (154.3, 232), (161.9, 233), (166.7, 234), (168.0, 227), (169.6, 231), (172.4, 234), (175.3, 237), (179.1, 239), (182.9, 241), (186.7, 244), (190.6, 246), (194.4, 247), (198.2, 249), (202.0, 250), (219.6, 250)]
GLIDE_PAST_MIN = [(0, 0), (1.15, 0), (3.4, 15), (5.3, 28), (7.3, 37), (9.2, 44), (11.1, 46), (13.0, 48), (14.9, 49), (121.1, 49), (121.8, 51), (133.3, 52), (134.2, 55), (146.6, 55), (161.9, 55), (165.7, 58), (175.3, 59), (194.4, 59), (213.5, 61), (218.3, 62), (219.6, 69)]
GLIDE_PAST_MEAN = [(0, 0), (1.5, 28), (3.4, 56), (5.3, 76), (7.3, 90), (9.2, 99), (11.1, 105), (13.9, 111), (16.8, 113), (20.6, 114), (24.4, 114), (34.0, 115), (41.6, 115), (60.7, 116), (79.8, 116), (89.4, 117), (101.8, 118), (118.0, 119), (125.6, 120), (133.3, 124), (140.0, 124), (141.3, 119), (146.6, 122), (152.4, 126), (157.2, 131), (158.5, 124), (163.8, 128), (166.7, 131), (168.0, 121), (171.5, 124), (175.3, 127), (181.0, 131), (182.9, 128), (186.7, 130), (191.5, 133), (193.4, 138), (202.0, 140), (203.9, 145), (209.7, 144), (216.3, 143), (218.3, 142), (219.6, 144)]

GLIDE_ABAN_MAX = [(0, 0), (1.5, 30), (3.4, 78), (5.3, 105), (7.3, 123), (9.2, 133), (11.1, 140), (13.0, 148), (14.9, 162), (16.8, 171), (18.7, 181), (20.6, 188), (22.5, 188), (24.4, 193), (26.0, 204), (28.3, 207), (31.1, 209), (41.6, 209), (45.4, 211), (52.1, 212), (60.7, 213), (148.6, 213), (150.5, 215), (154.3, 219), (161.9, 222), (165.7, 226), (171.5, 229), (175.3, 233), (181.0, 235), (189.6, 241), (200.1, 241), (202.0, 254), (211.6, 254), (213.5, 256), (219.6, 259)]
GLIDE_ABAN_MIN = [(0, 0), (2.5, 15), (3.4, 10), (4.4, 16), (5.0, 0), (5.9, 10), (7.3, 16), (10.1, 34), (13.0, 40), (15.8, 44), (16.8, 44), (93.2, 44), (94.3, 51), (156.2, 51), (157.2, 53), (211.6, 53), (213.5, 58), (214.4, 61), (219.6, 61)]
GLIDE_ABAN_MEAN = [(0, 0), (1.5, 20), (3.4, 37), (5.3, 52), (7.3, 68), (9.2, 78), (11.1, 85), (13.0, 90), (15.8, 93), (18.7, 95), (24.4, 96), (34.0, 96), (41.6, 96), (56.9, 97), (64.5, 99), (68.4, 102), (76.0, 103), (79.8, 104), (91.3, 104), (101.8, 106), (108.5, 107), (118.0, 108), (119.9, 110), (137.1, 110), (148.6, 110), (156.2, 112), (165.7, 112), (174.3, 115), (175.3, 117), (184.8, 117), (199.2, 118), (202.0, 120), (208.7, 120), (211.6, 129), (214.4, 143), (217.3, 146), (218.3, 149), (219.6, 163)]

DEPTH_NAMES = ["0 cm", "1.5 cm", "5 cm", "10 cm"]
DEPTH_COLORS = ["black", "red", "blue", "green"]
PANEL_LETTERS = ["a", "b", "c", "d", "e", "f", "g", "h"]

# ---------------- layout geometry (reference pixels) ----------------
PANEL_PX = [(72.7, 461.7), (500, 889.3), (928.3, 1317.3), (1356, 1746), (1784.7, 2174.3),
            (2212.7, 2446.7), (2485, 2874.3), (2913.3, 3302.7)]
PLOT_LEFT, PLOT_RIGHT = 108, 1626
Y_RANGES = [(-15, 15, 5), (-2, 6, 1), (-2, 6, 1), (0, 50, 10), (0, 50, 10), (0, 7, 1), (0, 400, 50), (0, 400, 50)]


def px_x(p):
    return (p - OFF) / W


def px_y(p):
    return 1 - (p - OFF) / H


X_DOM = [px_x(PLOT_LEFT), px_x(PLOT_RIGHT)]


def daily(vals):
    return list(pd.date_range(START, periods=len(vals), freq="D"))


def split(pairs):
    xs = [START + pd.Timedelta(days=d) for d, v in pairs]
    ys = [v for d, v in pairs]
    return xs, ys


PAD = "\u00a0\u00a0\u00a0"


def leg_text(t):
    return "<br>".join(PAD + part for part in t.split("<br>"))


fig = go.Figure()


def add_line(xs, ys, i, color, width, name=None, legend=None, showlegend=False, yaxis=None, group=None):
    fig.add_trace(go.Scatter(
        x=xs, y=ys, mode="lines", line=dict(color=color, width=width),
        xaxis="x" if i == 1 else f"x{i}",
        yaxis=yaxis or ("y" if i == 1 else f"y{i}"),
        name=leg_text(name) if name else None, legend=legend, showlegend=showlegend,
        legendgroup=group, hoverinfo="skip", connectgaps=False))


# panel a
add_line(daily(AIR_TEMP), AIR_TEMP, 1, "black", 2.2, "Air<br>temperature", "legend", True)
add_line(daily(SNOW_T0), SNOW_T0, 1, "red", 2.2, "Snow temp.<br>0 cm", "legend", True)
add_line(daily(SNOW_T5), SNOW_T5, 1, "blue", 2.2, "Snow temp.<br>5 cm", "legend", True)
add_line(daily(SNOW_HEIGHT), SNOW_HEIGHT, 1, "green", 6, "Snow height", "legend2", True, yaxis="y9")

# panels b-e
for i, series, lg in [(2, [SOILT_PAST_0, SOILT_PAST_15, SOILT_PAST_5, SOILT_PAST_10], "legend3"),
                      (3, [SOILT_ABAN_0, SOILT_ABAN_15, SOILT_ABAN_5, SOILT_ABAN_10], "legend4"),
                      (4, [MOIST_PAST_0, MOIST_PAST_15, MOIST_PAST_5, MOIST_PAST_10], "legend5"),
                      (5, [MOIST_ABAN_0, MOIST_ABAN_15, MOIST_ABAN_5, MOIST_ABAN_10], "legend6")]:
    for j, (s, nm, c) in enumerate(zip(series, DEPTH_NAMES, DEPTH_COLORS)):
        xs, ys = split(s)
        add_line(xs, ys, i, c, 2.5, nm, lg, True, group=f"{lg}_{j}")

# panel f
xs, ys = split(LWC)
add_line(xs, ys, 6, "black", 2.2, "LWC", "legend7", True)

# panels g, h (min/max band + mean)
for i, mn, mx, me in [(7, GLIDE_PAST_MIN, GLIDE_PAST_MAX, GLIDE_PAST_MEAN),
                      (8, GLIDE_ABAN_MIN, GLIDE_ABAN_MAX, GLIDE_ABAN_MEAN)]:
    xs, ys = split(mn)
    fig.add_trace(go.Scatter(x=xs, y=ys, mode="lines", line=dict(color="#808080", width=0),
                             xaxis=f"x{i}", yaxis=f"y{i}", showlegend=False, hoverinfo="skip"))
    xs, ys = split(mx)
    fig.add_trace(go.Scatter(x=xs, y=ys, mode="lines", line=dict(color="#808080", width=0),
                             fill="tonexty", fillcolor="#808080", name="Min / max",
                             xaxis=f"x{i}", yaxis=f"y{i}", showlegend=False, hoverinfo="skip"))
    xs, ys = split(me)
    add_line(xs, ys, i, "black", 9, None, None, False)

layout = dict(
    width=W, height=H, margin=dict(l=0, r=0, t=0, b=0, autoexpand=False),
    paper_bgcolor="white", plot_bgcolor="white",
    font=dict(family=FONT, size=26, color="black"),
    showlegend=True,
)

shapes = []
annotations = []
for k in range(8):
    i = k + 1
    xn = "xaxis" if i == 1 else f"xaxis{i}"
    yn = "yaxis" if i == 1 else f"yaxis{i}"
    xr = "x" if i == 1 else f"x{i}"
    yr = "y" if i == 1 else f"y{i}"
    top, bot = PANEL_PX[k]
    lo, hi, step = Y_RANGES[k]
    vals = [lo + step * j for j in range(int(round((hi - lo) / step)) + 1)]
    layout[xn] = dict(
        type="date", range=[START, X_END], domain=X_DOM, anchor=yr, automargin=False,
        tickvals=MONTH_TICKS, ticktext=MONTH_LABELS, ticks="inside", ticklen=12, tickwidth=2,
        tickcolor="black", mirror="allticks", showline=True, linewidth=3, linecolor="black",
        showgrid=False, zeroline=False, tickfont=dict(size=26), ticklabelstandoff=-4,
    )
    layout[yn] = dict(
        range=[lo, hi], domain=[px_y(bot), px_y(top)], anchor=xr, automargin=False,
        tickvals=vals, ticktext=[f"{v:g}" for v in vals], ticks="inside", ticklen=12, tickwidth=2,
        tickcolor="black", mirror=(False if i == 1 else "allticks"), showline=True, linewidth=3,
        linecolor="black", showgrid=False, zeroline=False, tickfont=dict(size=26), ticklabelstandoff=8,
    )
    shapes.append(dict(type="line", xref=xr, yref=f"{yr} domain", x0=FEB1, x1=FEB1, y0=0, y1=1,
                       line=dict(color="black", width=2.5)))
    if i <= 3:
        shapes.append(dict(type="line", xref=f"{xr} domain", yref=yr, x0=0, x1=1, y0=0, y1=0,
                           line=dict(color="black", width=4, dash="12px,8px")))

layout["yaxis9"] = dict(
    range=[0, 200], overlaying="y", side="right", anchor="x", automargin=False,
    tickvals=[0, 50, 100, 150, 200], ticktext=["0", "50", "100", "150", "200"],
    ticks="inside", ticklen=12, tickwidth=2, tickcolor="black", showline=True, linewidth=3,
    linecolor="black", showgrid=False, zeroline=False, tickfont=dict(size=26), ticklabelstandoff=8,
)

# panel letters
LETTER_POS = [(133, 139), (133, 532), (132, 965), (133, 1391), (132, 1820), (133, 2241), (133, 2529), (133, 2946)]
for L, (lx, ly) in zip(PANEL_LETTERS, LETTER_POS):
    annotations.append(dict(text=L, xref="paper", yref="paper", x=px_x(lx), y=px_y(ly),
                            xanchor="center", yanchor="middle", showarrow=False, font=dict(size=32)))

# y-axis titles
Y_TITLES = [("Temperature [°C]", 14), ("Temperature [°C]", 33), ("Temperature [°C]", 33),
            ("Moisture [%]", 37), ("Moisture [%]", 35), ("LWC [%]", 51),
            ("Glide distance [mm]", 16), ("Glide distance [mm]", 16)]
for (t, tx), (top, bot) in zip(Y_TITLES, PANEL_PX):
    annotations.append(dict(text=t, xref="paper", yref="paper", x=px_x(tx), y=px_y((top + bot) / 2),
                            xanchor="center", yanchor="middle", textangle=-90, showarrow=False,
                            font=dict(size=26)))
annotations.append(dict(text="Snow height [cm]", xref="paper", yref="paper", x=px_x(1711),
                        y=px_y((PANEL_PX[0][0] + PANEL_PX[0][1]) / 2), xanchor="center", yanchor="middle",
                        textangle=-90, showarrow=False, font=dict(size=26, color="green")))

# period titles
annotations.append(dict(text="Period I", xref="x", yref="paper", x="2014-12-11 12:00", y=px_y(27),
                        xanchor="center", yanchor="middle", showarrow=False, font=dict(size=42)))
annotations.append(dict(text="Period II", xref="x", yref="paper", x="2015-04-10", y=px_y(27),
                        xanchor="center", yanchor="middle", showarrow=False, font=dict(size=42)))

# period arrows
for a0, a1 in [("2014-10-23 12:00", "2015-01-30 12:00"), ("2015-02-02 10:00", "2015-05-28 12:00")]:
    annotations.append(dict(text="", xref="x", yref="y", x=a1, y=13.5, axref="x", ayref="y", ax=a0, ay=13.5,
                            showarrow=True, arrowside="end+start", arrowhead=2, startarrowhead=2,
                            arrowsize=0.8, startarrowsize=0.8, arrowwidth=8, arrowcolor="black"))

# legend titles
LEG_TITLES = [("Soil temperature<br>pastures", 1897, 548), ("Soil temperature<br>abandoned area", 1897, 976),
              ("Soil moisture<br>pastures", 1897, 1404), ("Soil moisture<br>abandoned area", 1897, 1833),
              ("Glide distance<br>pastures", 1850, 2599), ("Glide distance<br>abandoned area", 1850, 3006)]
for t, tx, ty in LEG_TITLES:
    annotations.append(dict(text=t, xref="paper", yref="paper", x=px_x(tx), y=px_y(ty),
                            xanchor="center", yanchor="middle", showarrow=False, font=dict(size=27)))

# legend frames (reference px: x0, y0, x1, y1)
LEG_FRAMES = [(1743, 49, 2064, 316), (1751, 368, 2064, 427), (1762, 594, 1988, 798), (1762, 1023, 1988, 1225),
              (1762, 1450, 1988, 1653), (1762, 1879, 1988, 2082), (1801, 2276, 1988, 2334),
              (1710, 2657, 1988, 2764), (1710, 3065, 1988, 3173)]
for x0, y0, x1, y1 in LEG_FRAMES:
    shapes.append(dict(type="rect", xref="paper", yref="paper", x0=px_x(x0), x1=px_x(x1),
                       y0=px_y(y1), y1=px_y(y0), line=dict(color="black", width=2.5),
                       fillcolor="rgba(0,0,0,0)", layer="above"))

# glide legends (mean line + min/max patch) drawn as keys inside their frames
for ymean, ypatch in [(2685, 2735), (3093, 3142)]:
    shapes.append(dict(type="line", xref="paper", yref="paper", x0=px_x(1727), x1=px_x(1782),
                       y0=px_y(ymean), y1=px_y(ymean), line=dict(color="black", width=9)))
    shapes.append(dict(type="rect", xref="paper", yref="paper", x0=px_x(1720), x1=px_x(1786),
                       y0=px_y(ypatch + 13), y1=px_y(ypatch - 13), line=dict(width=0),
                       fillcolor="#808080"))
    annotations.append(dict(text="Mean", xref="paper", yref="paper", x=px_x(1809), y=px_y(ymean),
                            xanchor="left", yanchor="middle", showarrow=False, font=dict(size=32)))
    annotations.append(dict(text="Min / max", xref="paper", yref="paper", x=px_x(1809), y=px_y(ypatch),
                            xanchor="left", yanchor="middle", showarrow=False, font=dict(size=32)))

layout["shapes"] = shapes
layout["annotations"] = annotations

# plotly legends (no frame; frames drawn above). reference px of legend origin
LEG_POS = {"legend": (1761, 50), "legend2": (1766, 368), "legend3": (1777, 594.5),
           "legend4": (1777, 1022), "legend5": (1777, 1450), "legend6": (1777, 1878.7),
           "legend7": (1814, 2275.7)}
for name, (lx, ly) in LEG_POS.items():
    grouped = name in ("legend3", "legend4", "legend5", "legend6")
    layout[name] = dict(x=px_x(lx), y=px_y(ly), xanchor="left", yanchor="top",
                        borderwidth=0, bgcolor="rgba(0,0,0,0)",
                        font=dict(size=32, family=FONT), itemwidth=50,
                        traceorder=("grouped" if grouped else "normal"), tracegroupgap=3.7)

fig.update_layout(**layout)
fig.write_html("out.html", config={"displayModeBar": False},
               post_script="document.body.style.margin='0px';")
